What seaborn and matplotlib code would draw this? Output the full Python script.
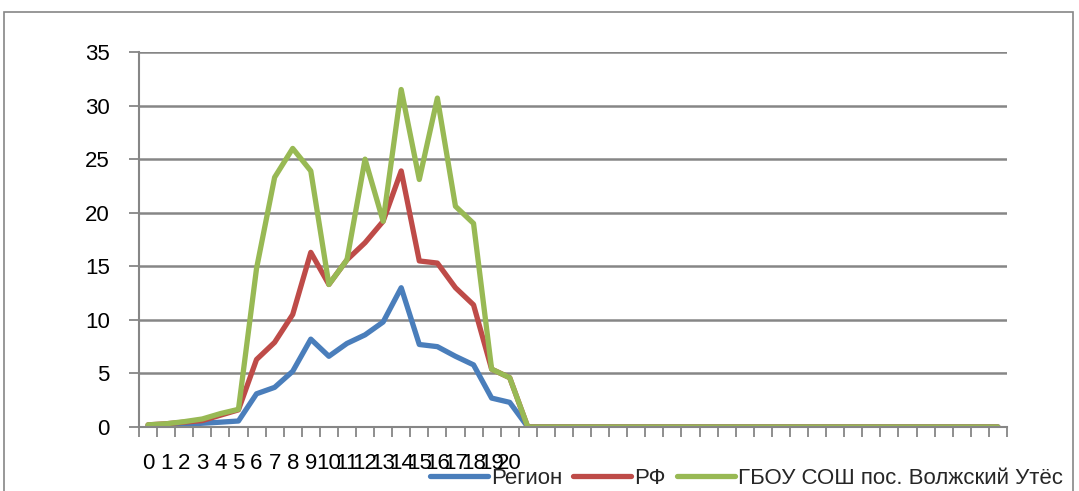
import matplotlib
matplotlib.use("Agg")
import matplotlib.pyplot as plt
import matplotlib.patches as mpatches
import seaborn as sns
import pandas as pd
import numpy as np

# ---- data ----
categories = list(range(48))
tick_labels = [str(i) for i in range(21)]
region = [0.1, 0.15, 0.25, 0.35, 0.45, 0.56, 3.1, 3.7, 5.2, 8.2, 6.6, 7.8, 8.6, 9.8, 13.0,
          7.7, 7.5, 6.6, 5.8, 2.7, 2.3] + [0.0] * 27
rf = [0.2, 0.3, 0.45, 0.6, 1.1, 1.6, 6.3, 7.9, 10.5, 16.3, 13.3, 15.6, 17.2, 19.2, 23.9,
      15.5, 15.3, 13.0, 11.4, 5.4, 4.6] + [0.0] * 27
school = [0.2, 0.3, 0.5, 0.75, 1.25, 1.65, 14.8, 23.3, 26.0, 23.9, 13.3, 15.6, 25.0, 19.2, 31.5,
          23.1, 30.7, 20.6, 19.0, 5.4, 4.6] + [0.0] * 27
series_names = ["Регион", "РФ", "ГБОУ СОШ пос. Волжский Утёс"]
colors = ["#4A7EBB", "#BE4B48", "#98B954"]

df = pd.DataFrame({
    "x": categories * 3,
    "value": region + rf + school,
    "series": [series_names[0]] * 48 + [series_names[1]] * 48 + [series_names[2]] * 48,
})

sns.set_theme(style="white")
plt.rcParams["font.family"] = ["Liberation Sans", "DejaVu Sans"]

fig = plt.figure(figsize=(10.79, 4.91), dpi=100)
ax = fig.add_axes([139 / 1079, 1 - 427 / 491, (1007 - 139) / 1079, (427 - 52) / 491])

sns.lineplot(data=df, x="x", y="value", hue="series", palette=colors, ax=ax,
             linewidth=3.8, legend=False, solid_capstyle="round", solid_joinstyle="round")

ax.set_xlim(-0.5, 47.5)
ax.set_ylim(0, 35)
ax.set_yticks(range(0, 36, 5))
ax.set_xlabel("")
ax.set_ylabel("")

grid_color = "#868686"
ax.yaxis.grid(True, color=grid_color, linewidth=1.8)
ax.set_axisbelow(True)

ax.set_xticks(range(21))
ax.set_xticklabels(tick_labels)
ax.set_xticks(np.arange(-0.5, 48, 1), minor=True)
ax.tick_params(axis="x", which="major", length=0, pad=19, labelsize=16, labelcolor="black")
ax.tick_params(axis="x", which="minor", length=7, width=1.3, color=grid_color, direction="out")
ax.tick_params(axis="y", which="major", length=7, width=1.3, color=grid_color, direction="out",
               pad=14, labelsize=16, labelcolor="black")
ax.tick_params(bottom=True, left=True, which="both")

for s in ["top", "right"]:
    ax.spines[s].set_visible(False)
for s in ["left", "bottom"]:
    ax.spines[s].set_color(grid_color)
    ax.spines[s].set_linewidth(1.5)

# legend
handles = [plt.Line2D([], [], color=c, linewidth=3.8, solid_capstyle="round") for c in colors]
fig.legend(handles, series_names, loc="center left", bbox_to_anchor=(430 / 1079, 1 - 478 / 491),
           ncol=3, frameon=False, fontsize=16, handlelength=2.6, handletextpad=0.15,
           columnspacing=0.5, borderpad=0, borderaxespad=0)

# outer border
fig.patches.append(mpatches.Rectangle((4 / 1079, -0.05), 1069 / 1079, 1 - 12 / 491 + 0.05,
                                      transform=fig.transFigure, fill=False,
                                      edgecolor="#868686", linewidth=1.2))

fig.savefig("out.png", dpi=100)
